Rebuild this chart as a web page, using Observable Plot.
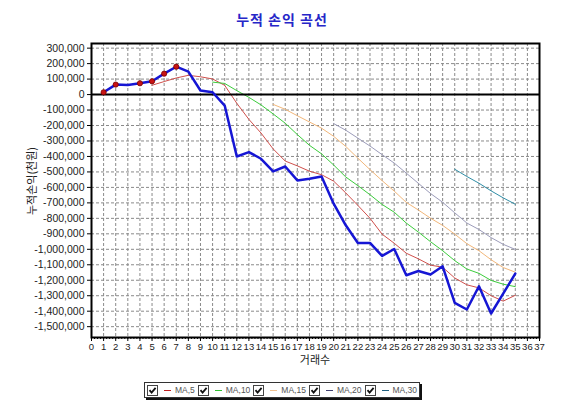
<!DOCTYPE html>
<html><head><meta charset="utf-8">
<script src="https://cdn.jsdelivr.net/npm/d3@7"></script>
<script src="https://cdn.jsdelivr.net/npm/@observablehq/plot@0.6"></script>
<style>
body{margin:0;background:#fff;width:564px;height:408px;overflow:hidden;font-family:"Liberation Sans",Arial,sans-serif}
#title{height:34px;line-height:38px;text-align:center;font-weight:bold;font-size:14px;font-family:"Noto Sans CJK KR",sans-serif;color:#2626c8;letter-spacing:1px}
#chart{height:335px;position:relative}
.axlab{position:absolute;font-family:"Noto Sans CJK KR",sans-serif;font-size:11px;color:#222;white-space:nowrap;line-height:12px}
#xlab{left:315px;top:319px;transform:translateX(-50%)}
#ylab{left:31px;top:147px;transform:translate(-50%,-50%) rotate(-90deg)}
#legend{margin:13px auto 0 auto;width:max-content;display:flex;align-items:center;border:1px solid #333;box-shadow:2px 2px 0 #111;background:#fff;height:14px;padding:0 2px 0 2px;font-size:8.5px;color:#555}
.item{display:flex;align-items:center;margin-right:3px}
.item:last-child{margin-right:0}
.cb{width:9px;height:9px;border:1px solid #444;position:relative;background:#fff}
.cb svg{position:absolute;left:0;top:0}
.dash{width:7px;height:1px;margin:0 4px 0 6px}
</style></head><body>
<div id="title">누적 손익 곡선</div>
<div id="chart"></div>
<div id="legend"></div>
<script>
// ---- data ----
const trades = [1,2,3,4,5,6,7,8,9,10,11,12,13,14,15,16,17,18,19,20,21,22,23,24,25,26,27,28,29,30,31,32,33,34,35];
const equity = [15000,64500,62000,73000,86000,135000,180000,148000,26000,15000,
  -71000,-400000,-372000,-415000,-497000,-465000,-555000,-544000,-529000,-705000,
  -845000,-959000,-959000,-1043000,-998000,-1168000,-1140000,-1163000,-1110000,-1346000,
  -1389000,-1239000,-1415000,-1286000,-1157000];
const maNames = ["MA,5","MA,10","MA,15","MA,20","MA,30"];
const maPeriods = [5,10,15,20,30];
const maColors = ["#d0504c","#3ccc3c","#f2b77a","#9c9cba","#2f8da6"];
const legendDashColors = ["#c02020","#30c030","#f0c090","#404070","#206080"];
const yTicks = d3.range(-1500000, 300001, 100000);
const xTicks = d3.range(0, 38);
const xMinor = d3.range(0, 37.001, 0.25);
const xLabel = "거래수";
const yLabel = "누적손익(천원)";

const rows = trades.map((t, i) => ({t, v: equity[i]}));
let runMax = -Infinity;
const highs = rows.filter(d => { const h = d.v > runMax; if (h) runMax = d.v; return h; });

const fmt = v => v.toLocaleString("en-US");

const marks = [
  Plot.gridX(d3.range(1, 37), {stroke: "#8a8a8a", strokeOpacity: 1, strokeDasharray: "3,2"}),
  Plot.gridY(yTicks, {stroke: "#8a8a8a", strokeOpacity: 1, strokeDasharray: "3,2"}),
  Plot.axisY(yTicks, {tickFormat: fmt, tickSize: 4, tickPadding: 3, label: null, fill: "#222", fontSize: 10.5}),
  Plot.axisX(xMinor, {tickSize: 2, tickFormat: () => "", label: null}),
  Plot.axisX(xTicks, {tickSize: 4, tickPadding: 2, label: null, fill: "#222", fontSize: 9.5}),
  ...maPeriods.map((k, j) => Plot.lineY(rows, Plot.windowY({k, anchor: "end", strict: true, reduce: "mean"}, {x: "t", y: "v", stroke: maColors[j], strokeWidth: 1}))),
  Plot.ruleY([0], {stroke: "#000", strokeWidth: 2}),
  Plot.lineY(rows, {x: "t", y: "v", stroke: "#1616d4", strokeWidth: 2.5}),
  Plot.dot(highs, {x: "t", y: "v", r: 2.6, fill: "#c81414", stroke: "#7a0000", strokeWidth: 0.8}),
  Plot.frame({stroke: "#000", strokeWidth: 2})
];

const chart = Plot.plot({
  width: 564, height: 335,
  marginLeft: 91, marginRight: 25, marginTop: 9, marginBottom: 32,
  x: {domain: [0, 37]},
  y: {domain: [-1570000, 330000]},
  style: {fontFamily: "Liberation Sans, Arial, sans-serif", fontSize: "10px", background: "#fff", overflow: "visible"},
  marks
});
const holder = document.getElementById("chart");
holder.appendChild(chart);
const xl = document.createElement("div"); xl.className = "axlab"; xl.id = "xlab"; xl.textContent = xLabel; holder.appendChild(xl);
const yl = document.createElement("div"); yl.className = "axlab"; yl.id = "ylab"; yl.textContent = yLabel; holder.appendChild(yl);

// legend
const lg = document.getElementById("legend");
maNames.forEach((name, j) => {
  const it = document.createElement("div");
  it.className = "item";
  it.innerHTML = `<span class="cb"><svg width="9" height="9" viewBox="0 0 9 9"><path d="M1.5 4.2 L3.6 6.6 L7.6 1.8" fill="none" stroke="#111" stroke-width="1.8"/></svg></span><span class="dash" style="background:${legendDashColors[j]}"></span><span>${name}</span>`;
  lg.appendChild(it);
});
</script>
</body></html>
